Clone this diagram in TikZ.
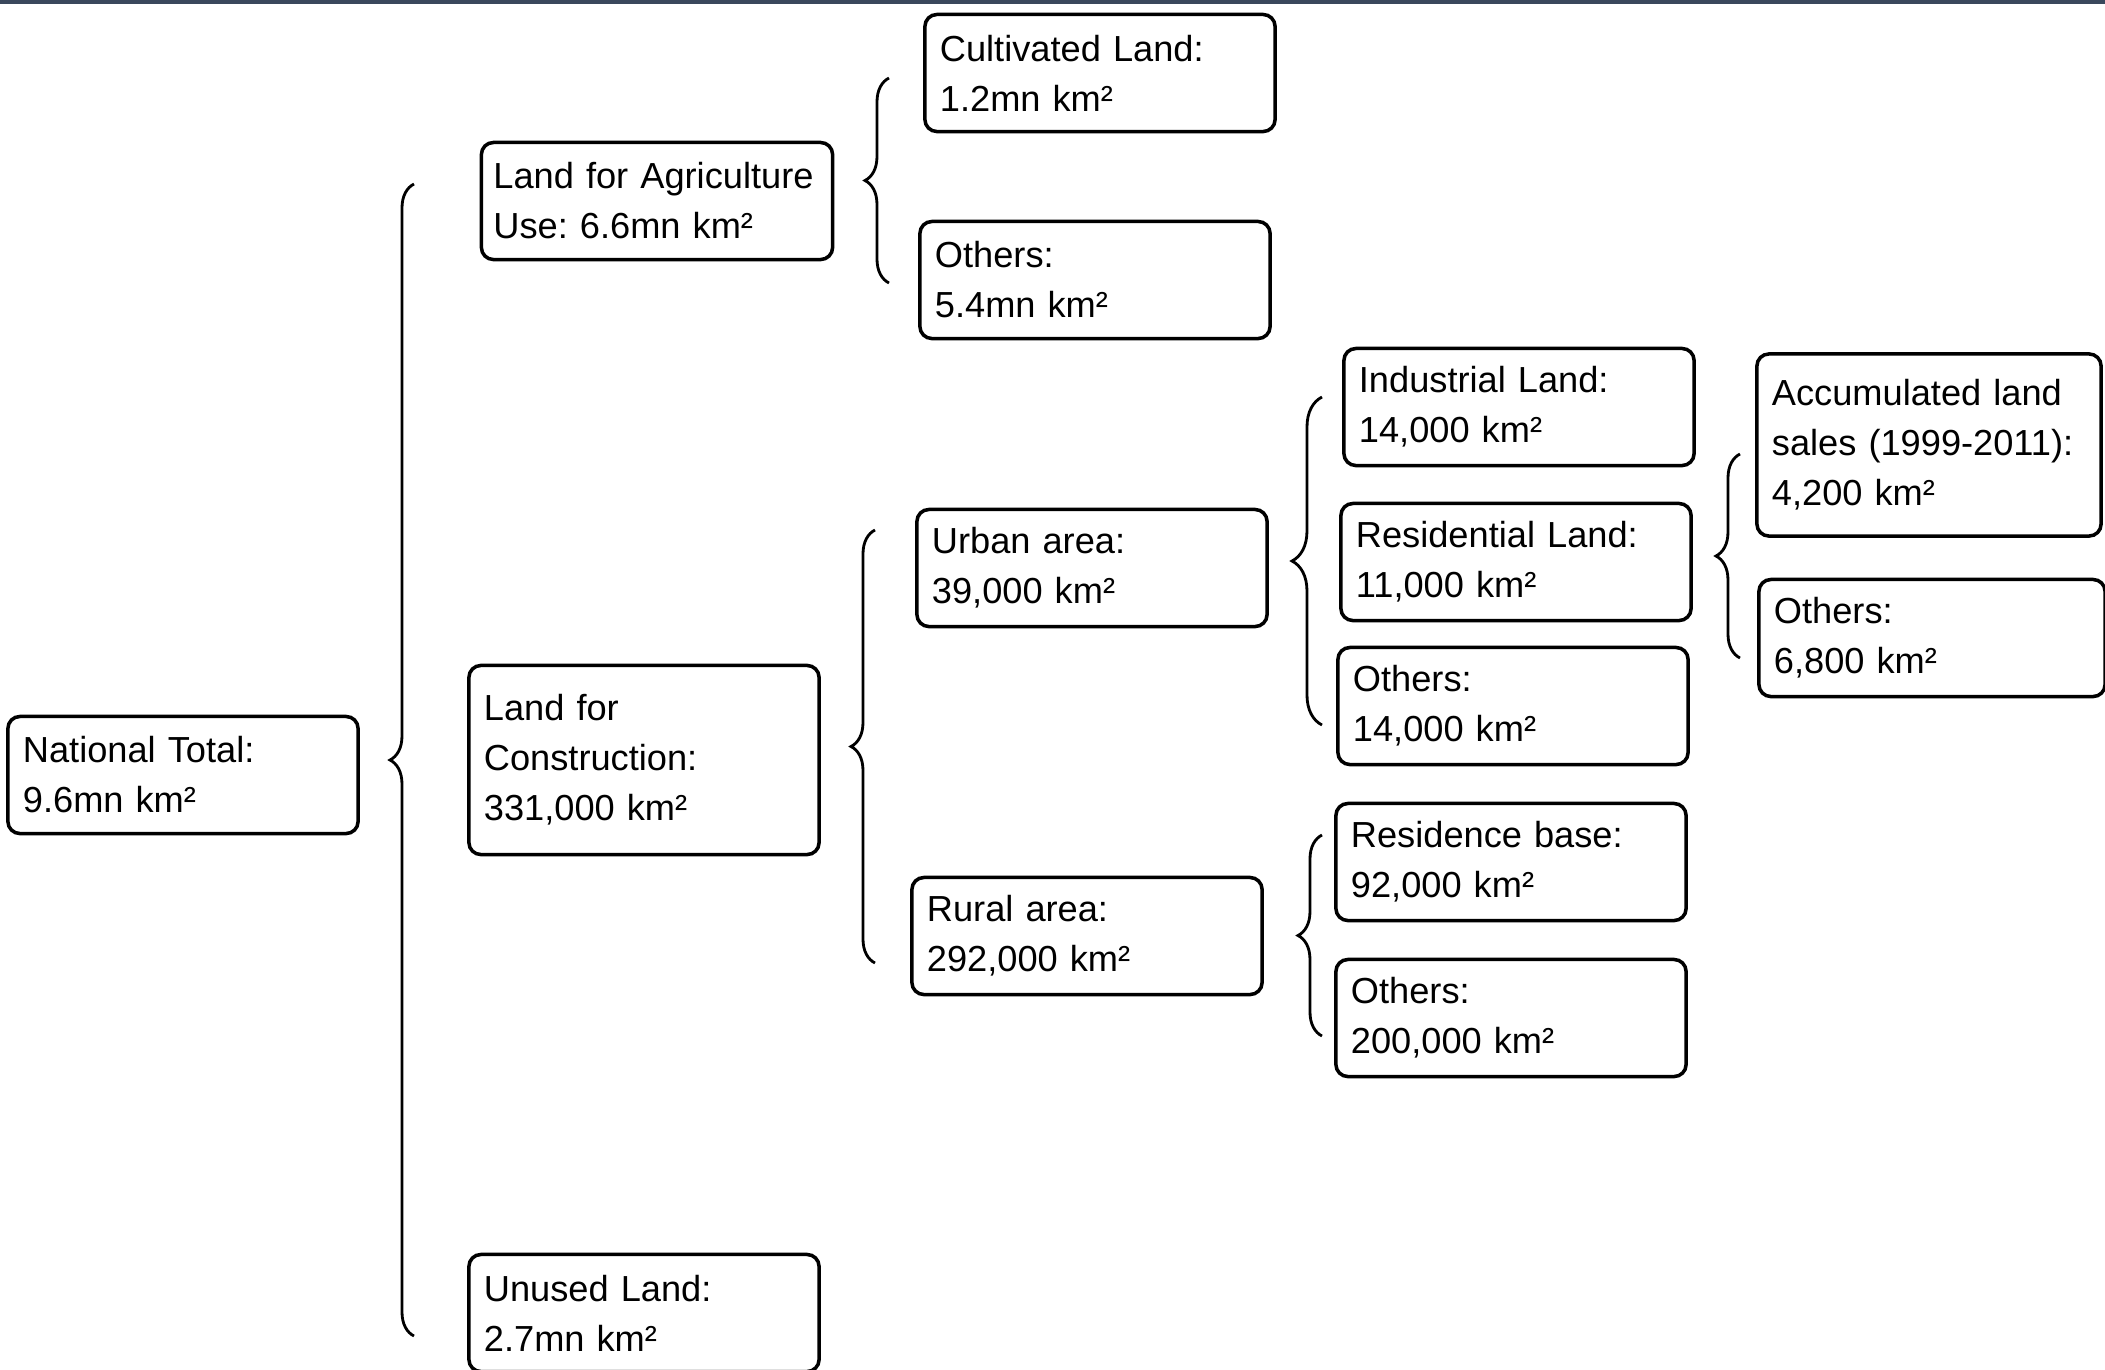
\documentclass[tikz,border=0pt]{standalone}
\usepackage{fontspec}
\setmainfont{Liberation Sans}
\usepackage{xcolor}
\usepackage{tikz}
\usetikzlibrary{decorations.pathreplacing}
\definecolor{topline}{RGB}{58,72,92}
\frenchspacing
\hyphenpenalty=10000

\begin{document}
\begin{tikzpicture}[x=0.01cm, y=-0.01cm,
  box/.style={draw, rounded corners=0.12cm, line width=1pt, align=left,
    text width=3.2cm, minimum height=1.17cm, inner xsep=0.15cm,
    font=\fontsize{10.3pt}{14.2pt}\selectfont},
  curly/.style={decorate, decoration={brace, amplitude=0.24cm}, line width=0.8pt}]
\useasboundingbox (0,0) rectangle (2105,1369);
\draw[topline, line width=1.2pt] (0,2) -- (2105,2);
%
\node[box] (nat) at (183,775) {National Total:\\9.6mn km²};
\node[box, text width=3.27cm, inner xsep=0.12cm] (agri) at (657,201)
  {Land for Agriculture\\Use: 6.6mn km²};
\node[box, minimum height=1.89cm] (cons) at (644,760) {Land for\\Construction:\\331,000 km²};
\node[box] (unused) at (644,1313) {Unused Land:\\2.7mn km²};
\node[box] (cult) at (1100,73) {Cultivated Land:\\1.2mn km²};
\node[box] (agriO) at (1095,280) {Others:\\5.4mn km²};
\node[box] (urban) at (1092,568) {Urban area:\\39,000 km²};
\node[box] (rural) at (1087,936) {Rural area:\\292,000 km²};
\node[box] (ind) at (1519,407) {Industrial Land:\\14,000 km²};
\node[box] (resid) at (1516,562) {Residential Land:\\11,000 km²};
\node[box] (urbanO) at (1513,706) {Others:\\14,000 km²};
\node[box] (base) at (1511,862) {Residence base:\\92,000 km²};
\node[box] (ruralO) at (1511,1018) {Others:\\200,000 km²};
\node[box, text width=3.14cm, minimum height=1.82cm] (sales) at (1929,445)
  {Accumulated land\\sales (1999-2011):\\4,200 km²};
\node[box, text width=3.16cm] (residO) at (1932,638) {Others:\\6,800 km²};
%
\coordinate (natT) at (414,184);   \coordinate (natB) at (414,1336);
\coordinate (agriT) at (889,78);   \coordinate (agriB) at (889,283);
\coordinate (consT) at (875,530);  \coordinate (consB) at (875,963);
\coordinate (urbT) at (1322,397);  \coordinate (urbB) at (1322,725);
\coordinate (rurT) at (1322,835);  \coordinate (rurB) at (1322,1036);
\coordinate (resT) at (1740,454);  \coordinate (resB) at (1740,658);
%
\draw[curly] (natB) -- (natT);
\draw[curly] (agriB) -- (agriT);
\draw[curly] (consB) -- (consT);
\draw[curly, decoration={amplitude=0.3cm}] (urbB) -- (urbT);
\draw[curly] (rurB) -- (rurT);
\draw[curly] (resB) -- (resT);
\end{tikzpicture}
\end{document}
